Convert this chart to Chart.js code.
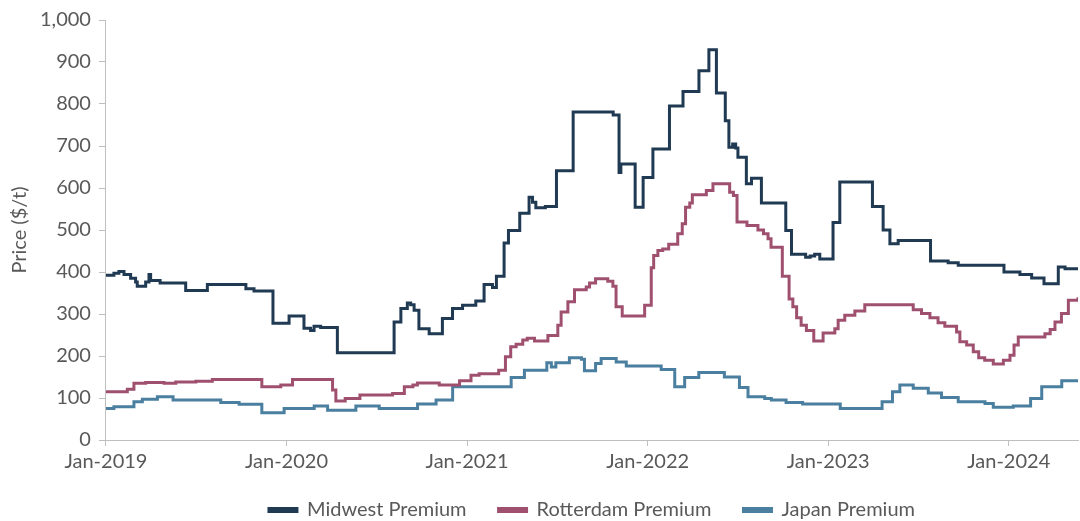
<!DOCTYPE html>
<html>
<head>
<meta charset="utf-8">
<script src="https://cdn.jsdelivr.net/npm/chart.js@4.4.1/dist/chart.umd.min.js"></script>
<style>
  html, body { margin: 0; padding: 0; background: #fff; }
  #wrap { width: 1080px; height: 521px; position: relative; }
</style>
</head>
<body>
<div id="wrap"><canvas id="chart"></canvas></div>
<script>
// x values are months since Jan-2019
const tickMonths = [0, 12, 24, 36, 48, 60];
const tickLabels = ['Jan-2019', 'Jan-2020', 'Jan-2021', 'Jan-2022', 'Jan-2023', 'Jan-2024'];

const midwestMonths = [0, 0.53, 0.86, 1.2, 1.64, 1.97, 2.08, 2.64, 2.86, 2.97, 3.6, 5.3, 6.74, 9.3, 9.84,
  11.1, 12.17, 13.16, 13.6, 13.83, 14.27, 15.38, 19.15, 19.6, 20.03, 20.25, 20.48, 20.8, 21.48, 22.36,
  23.03, 23.7, 24.58, 25.13, 25.69, 25.95, 26.46, 26.75, 27.5, 28.12, 28.35, 28.57, 29.2, 29.94, 31.05,
  33.71, 34.1, 34.22, 35.17, 35.7, 36.35, 37.45, 38.35, 39.41, 40.07, 40.57, 41.16, 41.4, 41.65, 41.85,
  42.0, 42.56, 42.9, 43.56, 45.18, 45.56, 46.5, 46.8, 47.1, 47.44, 48.32, 48.77, 50.94, 51.65, 52.1,
  52.65, 54.8, 55.97, 56.64, 59.68, 60.74, 61.52, 62.34, 63.29, 63.74, 64.6];
const midwestValues = [392, 397, 401, 394, 385, 376, 366, 376, 394, 380, 374, 356, 370, 360, 355,
  278, 295, 266, 261, 271, 268, 208, 281, 313, 326, 322, 309, 265, 253, 289,
  313, 321, 331, 370, 363, 390, 469, 499, 540, 578, 566, 553, 556, 641, 781,
  774, 637, 657, 554, 625, 693, 795, 830, 879, 929, 826, 760, 697, 705, 695,
  673, 610, 623, 564, 499, 442, 435, 438, 442, 431, 518, 614, 556, 500, 467,
  475, 426, 422, 416, 400, 394, 386, 372, 412, 408, 408];

const rotterdamMonths = [0, 1.42, 1.86, 2.64, 3.86, 4.64, 5.97, 7.07, 10.36, 11.62, 12.4, 15.06, 15.28,
  15.9, 16.88, 19.05, 19.83, 20.4, 20.7, 22.15, 23.5, 24.26, 24.8, 26.1, 26.55, 26.9, 27.26, 27.7, 28.0,
  28.48, 29.37, 30.03, 30.25, 30.7, 31.14, 31.92, 32.14, 32.54, 33.35, 33.69, 33.9, 34.31, 35.8, 36.24,
  36.4, 36.68, 37.0, 37.4, 38.0, 38.3, 38.52, 38.8, 38.97, 39.9, 40.34, 41.45, 41.7, 41.94, 42.6, 43.33,
  43.7, 44.0, 44.2, 44.95, 45.4, 45.65, 45.9, 46.2, 46.55, 47.04, 47.66, 48.44, 48.66, 49.1, 49.77,
  50.43, 53.65, 54.2, 54.76, 55.3, 55.75, 56.53, 56.75, 57.2, 57.64, 58.0, 58.4, 58.97, 59.64, 60.08,
  60.35, 60.63, 62.4, 62.75, 63.07, 63.5, 63.96, 64.6];
const rotterdamValues = [115, 121, 135, 137, 135, 138, 140, 144, 127, 131, 144, 119, 93,
  99, 107, 111, 127, 131, 136, 131, 141, 154, 158, 166, 198, 222, 228, 238, 242,
  236, 249, 273, 305, 329, 358, 364, 374, 384, 378, 366, 317, 295, 321, 410,
  439, 451, 455, 466, 491, 515, 554, 564, 584, 594, 610, 590, 582, 519, 511, 500,
  491, 479, 459, 390, 336, 317, 291, 273, 261, 236, 255, 265, 285, 297, 307,
  322, 310, 301, 291, 279, 271, 257, 234, 226, 210, 196, 190, 181, 190, 202,
  226, 245, 253, 263, 281, 301, 333, 340];

const japanMonths = [0, 0.53, 1.86, 2.42, 3.42, 4.46, 7.63, 8.85, 10.36, 11.84, 13.84, 14.73, 16.61,
  18.16, 20.71, 21.94, 23.04, 26.93, 27.81, 29.3, 29.6, 29.9, 30.8, 31.6, 31.8, 32.54, 32.91, 33.91,
  34.58, 36.9, 37.8, 38.46, 39.4, 41.1, 42.1, 42.67, 43.78, 44.22, 45.2, 46.3, 48.8, 51.58, 52.27,
  52.76, 53.65, 54.65, 55.53, 56.64, 58.42, 58.97, 60.3, 61.45, 62.19, 63.52, 64.6];
const japanValues = [75, 79, 91, 97, 103, 95, 89, 85, 65, 75, 81, 71, 81,
  75, 86, 95, 127, 149, 166, 184, 174, 184, 196, 192, 165, 182, 194, 186,
  176, 168, 127, 149, 161, 150, 125, 103, 99, 95, 89, 86, 75, 91, 115,
  131, 123, 112, 101, 91, 87, 78, 81, 99, 127, 141, 141];

const textColor = '#595959';
const axisColor = '#bfbfbf';
const fontFamily = 'Lato, "DejaVu Sans", sans-serif';

function points(months, values) {
  return months.map((m, i) => ({ x: m, y: values[i] }));
}

function series(label, months, values, color) {
  return {
    label: label,
    data: points(months, values),
    borderColor: color,
    backgroundColor: color,
    borderWidth: 3,
    pointRadius: 0,
    stepped: true,
    fill: false
  };
}

// centre the legend under the plot area and lift it a little
const legendUnderPlot = {
  id: 'legendUnderPlot',
  afterLayout(chart) {
    const legend = chart.legend;
    if (!legend) return;
    const shift = (chart.chartArea.left + chart.chartArea.right) / 2 - (legend.left + legend.right) / 2;
    legend.left += shift;
    legend.right += shift;
    legend.top -= 10;
  }
};

new Chart(document.getElementById('chart').getContext('2d'), {
  type: 'line',
  data: {
    datasets: [
      series('Midwest Premium', midwestMonths, midwestValues, '#1f3a52'),
      series('Rotterdam Premium', rotterdamMonths, rotterdamValues, '#a0506f'),
      series('Japan Premium', japanMonths, japanValues, '#4a7fa0')
    ]
  },
  plugins: [legendUnderPlot],
  options: {
    responsive: true, maintainAspectRatio: false, animation: false,
    layout: { padding: { top: 2, right: 2, left: 2, bottom: 0 } },
    scales: {
      x: {
        type: 'linear', min: 0, max: 64.6,
        afterBuildTicks: scale => { scale.ticks = tickMonths.map(v => ({ value: v })); },
        ticks: {
          autoSkip: false, maxRotation: 0, padding: 4, color: textColor,
          font: { family: fontFamily, size: 20 },
          callback: value => tickLabels[tickMonths.indexOf(value)]
        },
        grid: { drawOnChartArea: false, drawTicks: true, tickLength: 6, color: axisColor },
        border: { display: true, color: axisColor, width: 1 }
      },
      y: {
        min: 0, max: 1000,
        ticks: {
          stepSize: 100, padding: 8, color: textColor,
          font: { family: fontFamily, size: 20 },
          callback: value => value.toLocaleString('en-US')
        },
        title: {
          display: true, text: 'Price ($/t)', color: textColor, padding: { top: 6, bottom: 0 },
          font: { family: fontFamily, size: 20 }
        },
        grid: { drawOnChartArea: false, drawTicks: true, tickLength: 7, color: axisColor },
        border: { display: true, color: axisColor, width: 1 }
      }
    },
    plugins: {
      legend: {
        position: 'bottom',
        maxHeight: 43,
        labels: {
          color: textColor, boxWidth: 28, boxHeight: 3, padding: 32,
          font: { family: fontFamily, size: 20 }
        }
      },
      tooltip: { enabled: false }
    }
  }
});
</script>
</body>
</html>
